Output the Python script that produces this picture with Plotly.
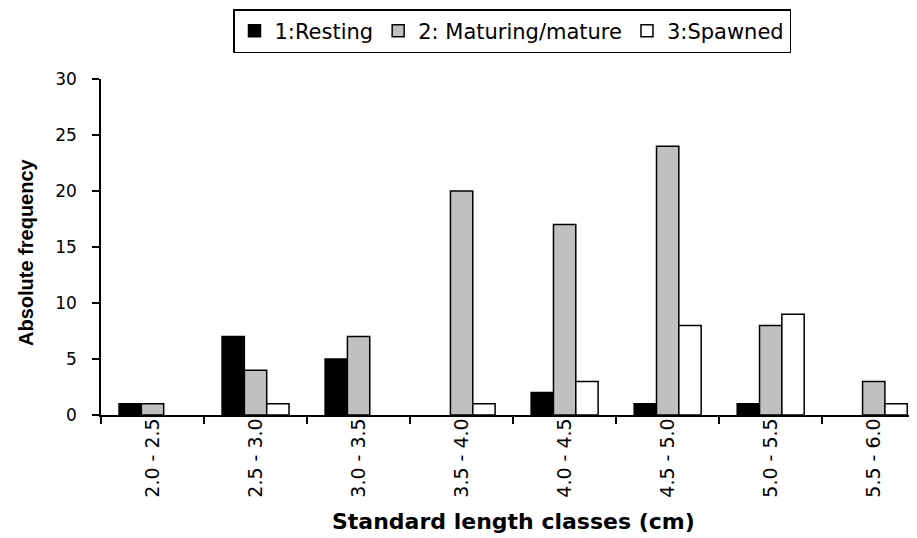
import plotly.graph_objects as go

categories = ["2.0 - 2.5", "2.5 - 3.0", "3.0 - 3.5", "3.5 - 4.0", "4.0 - 4.5", "4.5 - 5.0", "5.0 - 5.5", "5.5 - 6.0"]
resting = [1, 7, 5, 0, 2, 1, 1, 0]
maturing = [1, 4, 7, 20, 17, 24, 8, 3]
spawned = [0, 1, 0, 1, 3, 8, 9, 1]

sans = "DejaVu Sans, sans-serif"
arial = "Liberation Sans, Arial, sans-serif"

# page body has an 8px margin; figure coordinates = page coordinates - 8
PLOT_L, PLOT_T, PLOT_B, PLOT_R = 101, 79, 415, 917
W, H = 909, 530

def px(xp):
    return (xp - PLOT_L) / (PLOT_R - PLOT_L)

def py(yp):
    return (PLOT_B - yp) / (PLOT_B - PLOT_T)

fig = go.Figure()
series = [
    ("1:Resting", resting, "#000000"),
    ("2: Maturing/mature", maturing, "#c0c0c0"),
    ("3:Spawned", spawned, "#ffffff"),
]
for name, vals, color in series:
    fig.add_trace(go.Bar(
        x=categories, y=[v if v else None for v in vals], name=name,
        marker=dict(color=color, line=dict(color="#000000", width=1.5)),
    ))

fig.update_layout(
    width=W, height=H,
    margin=dict(l=PLOT_L - 8, r=0, t=PLOT_T - 8, b=(H + 8) - PLOT_B, autoexpand=False),
    paper_bgcolor="white", plot_bgcolor="white",
    barmode="group", bargap=0.35, bargroupgap=0,
    font=dict(family=sans, size=16, color="#000000"),
    showlegend=True,
    legend=dict(
        orientation="h", x=px(512), xanchor="center", y=py(9), yanchor="top",
        bordercolor="#000000", borderwidth=1.5, bgcolor="white",
        font=dict(size=21, family=sans), itemwidth=30, traceorder="normal",
    ),
    xaxis=dict(
        type="category", range=[-0.5, 7.42], automargin=False,
        showline=True, linecolor="#000000", linewidth=1.5,
        ticks="outside", tickson="boundaries", ticklen=7, tickwidth=1.5, tickcolor="#000000",
        tickangle=-90, tickfont=dict(size=19, family=sans), showgrid=False,
        ticklabelstandoff=-6,
    ),
    yaxis=dict(
        range=[0, 30], tickvals=[0, 5, 10, 15, 20, 25, 30], automargin=False,
        showline=True, linecolor="#000000", linewidth=1.5,
        ticks="outside", ticklen=7, tickwidth=1.5, tickcolor="#000000",
        tickfont=dict(size=17, family=sans), showgrid=False, zeroline=False,
        ticklabelstandoff=12,
    ),
    annotations=[
        dict(text="<b>Standard length classes (cm)</b>", xref="paper", yref="paper",
             x=px(513), y=py(521), xanchor="center", yanchor="middle",
             showarrow=False, font=dict(size=22, family=sans)),
        dict(text="<b>Absolute frequency</b>", xref="paper", yref="paper",
             x=px(26), y=py(252), xanchor="center", yanchor="middle",
             textangle=-90, showarrow=False, font=dict(size=20, family=arial)),
    ],
)

fig.write_html("out.html")
